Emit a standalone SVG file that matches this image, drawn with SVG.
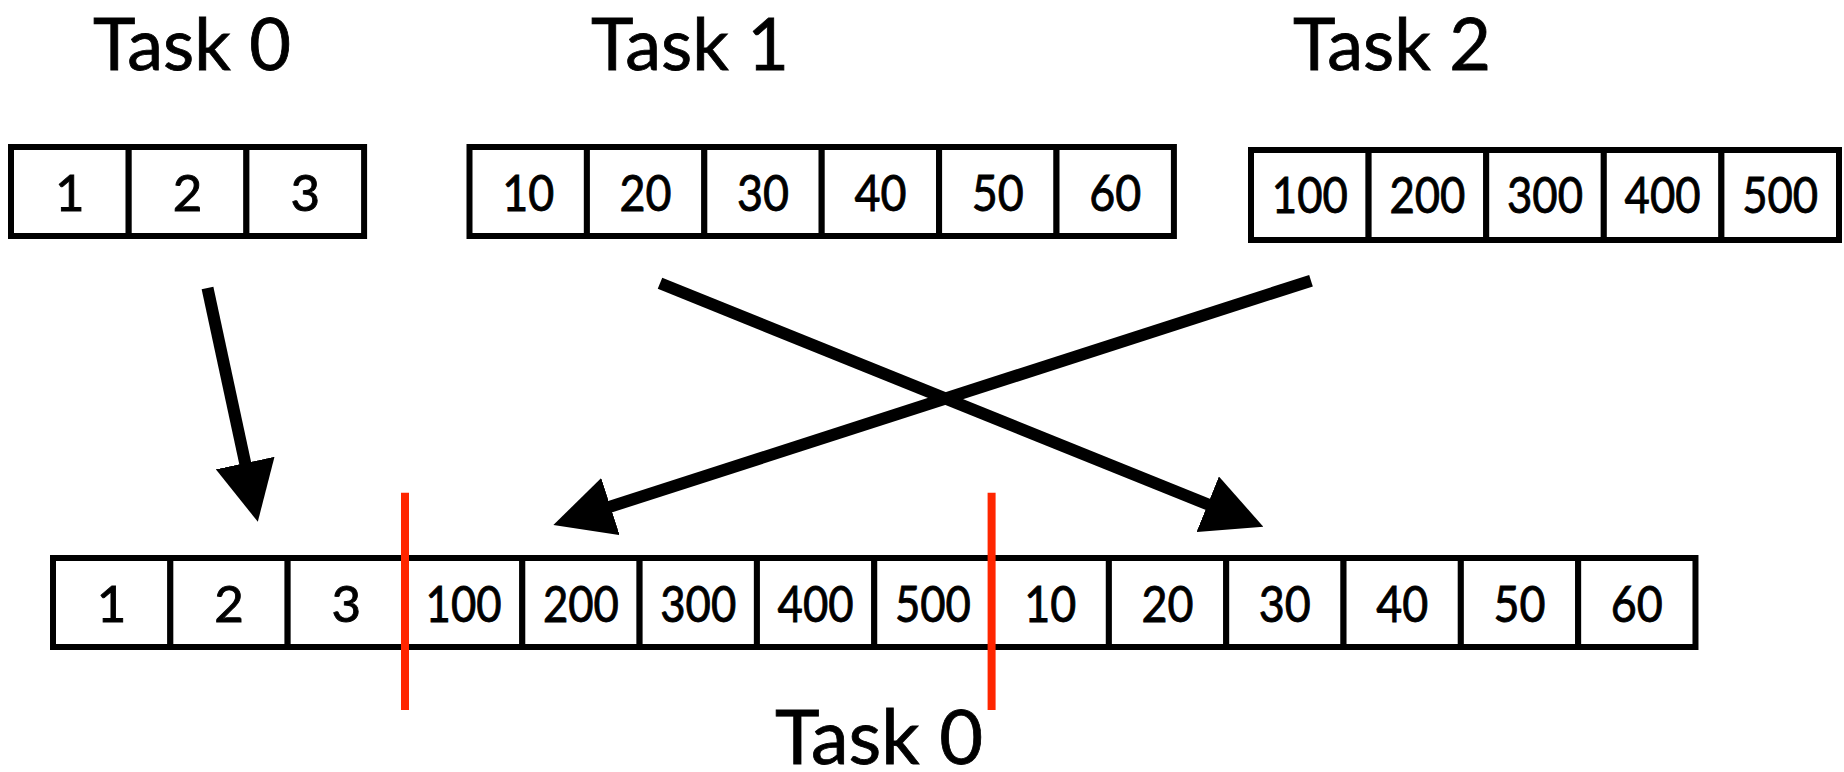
<svg xmlns="http://www.w3.org/2000/svg" width="1844" height="772" viewBox="0 0 1844 772">
  <defs>
    <style>
      .cell { fill: #ffffff; stroke: #000000; stroke-width: 6; }
      .num { font-family: Lato, "Liberation Sans", sans-serif; font-size: 51px; text-anchor: middle; fill: #000000; stroke: #000000; stroke-width: 0.9; }
      .title { font-family: Lato, "Liberation Sans", sans-serif; font-size: 71px; text-anchor: middle; fill: #000000; stroke: #000000; stroke-width: 0.8; }
      .title.big { font-size: 75px; }
      .arrow { fill: none; stroke: #000000; stroke-width: 12; stroke-linecap: butt; marker-end: url(#head); }
      .split { stroke: #ff2600; stroke-width: 8; }
    </style>
    <marker id="head" markerUnits="userSpaceOnUse" markerWidth="60" markerHeight="60" viewBox="0 0 60 60" refX="30" refY="30" orient="auto">
      <path d="M0,0 L60,30 L0,60 z" fill="#000000"/>
    </marker>
  </defs>

  <rect width="1844" height="772" fill="#ffffff"/>

  <!-- task titles -->
  <g id="title-task0"><text class="title" x="192" y="70" textLength="198" lengthAdjust="spacingAndGlyphs">Task 0</text></g>
  <g id="title-task1"><text class="title" x="690" y="70" textLength="198" lengthAdjust="spacingAndGlyphs">Task 1</text></g>
  <g id="title-task2"><text class="title" x="1392" y="70" textLength="198" lengthAdjust="spacingAndGlyphs">Task 2</text></g>

  <!-- Task 0 send buffer -->
  <g id="array-task0">
    <rect class="cell" x="11" y="147" width="117.7" height="89"/>
    <rect class="cell" x="128.7" y="147" width="117.7" height="89"/>
    <rect class="cell" x="246.4" y="147" width="117.7" height="89"/>
    <text class="num" x="69.85" y="211">1</text>
    <text class="num" x="187.55" y="211">2</text>
    <text class="num" x="305.25" y="211">3</text>
  </g>

  <!-- Task 1 send buffer -->
  <g id="array-task1">
    <rect class="cell" x="469.5" y="147" width="117.4" height="89"/>
    <rect class="cell" x="586.9" y="147" width="117.4" height="89"/>
    <rect class="cell" x="704.3" y="147" width="117.4" height="89"/>
    <rect class="cell" x="821.7" y="147" width="117.4" height="89"/>
    <rect class="cell" x="939.1" y="147" width="117.4" height="89"/>
    <rect class="cell" x="1056.5" y="147" width="117.4" height="89"/>
    <text class="num" x="528.2" y="211" textLength="52" lengthAdjust="spacingAndGlyphs">10</text>
    <text class="num" x="645.6" y="211" textLength="52" lengthAdjust="spacingAndGlyphs">20</text>
    <text class="num" x="763" y="211" textLength="52" lengthAdjust="spacingAndGlyphs">30</text>
    <text class="num" x="880.4" y="211" textLength="52" lengthAdjust="spacingAndGlyphs">40</text>
    <text class="num" x="997.8" y="211" textLength="52" lengthAdjust="spacingAndGlyphs">50</text>
    <text class="num" x="1115.2" y="211" textLength="52" lengthAdjust="spacingAndGlyphs">60</text>
  </g>

  <!-- Task 2 send buffer -->
  <g id="array-task2">
    <rect class="cell" x="1251" y="150" width="117.6" height="90"/>
    <rect class="cell" x="1368.6" y="150" width="117.6" height="90"/>
    <rect class="cell" x="1486.2" y="150" width="117.6" height="90"/>
    <rect class="cell" x="1603.8" y="150" width="117.6" height="90"/>
    <rect class="cell" x="1721.4" y="150" width="117.6" height="90"/>
    <text class="num" x="1309.8" y="213" textLength="76" lengthAdjust="spacingAndGlyphs">100</text>
    <text class="num" x="1427.4" y="213" textLength="76" lengthAdjust="spacingAndGlyphs">200</text>
    <text class="num" x="1545" y="213" textLength="76" lengthAdjust="spacingAndGlyphs">300</text>
    <text class="num" x="1662.6" y="213" textLength="76" lengthAdjust="spacingAndGlyphs">400</text>
    <text class="num" x="1780.2" y="213" textLength="76" lengthAdjust="spacingAndGlyphs">500</text>
  </g>

  <!-- transfers into the receive buffer -->
  <g id="connectors">
    <path class="arrow" d="M207.5,288 L251.5,492.4"/>
    <path class="arrow" d="M660,283.3 L1235.5,515.5"/>
    <path class="arrow" d="M1311,280.7 L581.9,515.8"/>
  </g>

  <!-- Task 0 receive buffer -->
  <g id="array-result">
    <rect class="cell" x="53" y="558" width="117.32" height="89"/>
    <rect class="cell" x="170.32" y="558" width="117.32" height="89"/>
    <rect class="cell" x="287.64" y="558" width="117.32" height="89"/>
    <rect class="cell" x="404.96" y="558" width="117.32" height="89"/>
    <rect class="cell" x="522.28" y="558" width="117.32" height="89"/>
    <rect class="cell" x="639.6" y="558" width="117.32" height="89"/>
    <rect class="cell" x="756.92" y="558" width="117.32" height="89"/>
    <rect class="cell" x="874.24" y="558" width="117.32" height="89"/>
    <rect class="cell" x="991.56" y="558" width="117.32" height="89"/>
    <rect class="cell" x="1108.88" y="558" width="117.32" height="89"/>
    <rect class="cell" x="1226.2" y="558" width="117.32" height="89"/>
    <rect class="cell" x="1343.52" y="558" width="117.32" height="89"/>
    <rect class="cell" x="1460.84" y="558" width="117.32" height="89"/>
    <rect class="cell" x="1578.16" y="558" width="117.32" height="89"/>
    <text class="num" x="111.66" y="622">1</text>
    <text class="num" x="228.98" y="622">2</text>
    <text class="num" x="346.3" y="622">3</text>
    <text class="num" x="463.62" y="622" textLength="76" lengthAdjust="spacingAndGlyphs">100</text>
    <text class="num" x="580.94" y="622" textLength="76" lengthAdjust="spacingAndGlyphs">200</text>
    <text class="num" x="698.26" y="622" textLength="76" lengthAdjust="spacingAndGlyphs">300</text>
    <text class="num" x="815.58" y="622" textLength="76" lengthAdjust="spacingAndGlyphs">400</text>
    <text class="num" x="932.9" y="622" textLength="76" lengthAdjust="spacingAndGlyphs">500</text>
    <text class="num" x="1050.22" y="622" textLength="52" lengthAdjust="spacingAndGlyphs">10</text>
    <text class="num" x="1167.54" y="622" textLength="52" lengthAdjust="spacingAndGlyphs">20</text>
    <text class="num" x="1284.86" y="622" textLength="52" lengthAdjust="spacingAndGlyphs">30</text>
    <text class="num" x="1402.18" y="622" textLength="52" lengthAdjust="spacingAndGlyphs">40</text>
    <text class="num" x="1519.5" y="622" textLength="52" lengthAdjust="spacingAndGlyphs">50</text>
    <text class="num" x="1636.82" y="622" textLength="52" lengthAdjust="spacingAndGlyphs">60</text>
  </g>

  <!-- segment boundaries in the receive buffer -->
  <g id="splits">
    <line class="split" x1="405" y1="492.7" x2="405" y2="710"/>
    <line class="split" x1="991.6" y1="492.7" x2="991.6" y2="710"/>
  </g>

  <g id="title-result"><text class="title big" x="879" y="764" textLength="208" lengthAdjust="spacingAndGlyphs">Task 0</text></g>
</svg>
